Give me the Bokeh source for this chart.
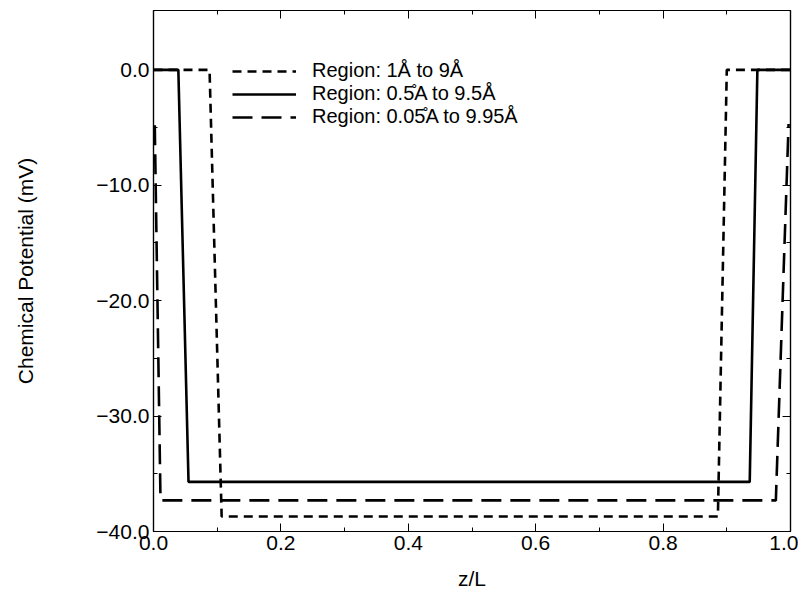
from bokeh.plotting import figure
from bokeh.models import Range1d, LinearAxis, FixedTicker, Legend, LegendItem
from bokeh.embed import file_html
from bokeh.resources import INLINE

# Data
short_x = [0.0, 0.088, 0.107, 0.886, 0.900, 1.0]
short_y = [0.0, 0.0, -38.7, -38.7, 0.0, 0.0]
solid_x = [0.0, 0.039, 0.055, 0.936, 0.948, 1.0]
solid_y = [0.0, 0.0, -35.7, -35.7, 0.0, 0.0]
long_x = [0.002, 0.011, 0.977, 0.997]
long_y = [-4.8, -37.3, -37.3, -4.7]

labels = ["Region: 1Å to 9Å", "Region: 0.5\u030aA to 9.5Å", "Region: 0.05\u030aA to 9.95Å"]
x_ticks = [0.0, 0.2, 0.4, 0.6, 0.8, 1.0]
y_ticks = [0.0, -10.0, -20.0, -30.0, -40.0]

FONT = "Liberation Sans"

p = figure(width=798, height=592, output_backend="svg", toolbar_location=None,
           x_range=Range1d(0.0, 1.0), y_range=Range1d(-40.0, 5.14),
           min_border_left=153, min_border_right=8, min_border_top=10, min_border_bottom=55)
p.grid.visible = False
p.outline_line_color = "black"
p.outline_line_width = 1.2
p.background_fill_color = "white"
p.border_fill_color = "white"

lw = 2.6
r1 = p.line(short_x, short_y, line_color="black", line_width=lw, line_dash="9 6")
r2 = p.line(solid_x, solid_y, line_color="black", line_width=lw)
r3 = p.line(long_x, long_y, line_color="black", line_width=lw, line_dash="20 9")

def style(ax, show_labels=True):
    ax.axis_line_color = "black"
    ax.axis_line_width = 1.2
    ax.major_tick_in = 8
    ax.major_tick_out = 0
    ax.minor_tick_in = 4
    ax.minor_tick_out = 0
    ax.major_tick_line_color = "black"
    ax.minor_tick_line_color = "black"
    ax.major_label_text_font = FONT
    ax.major_label_text_font_size = "21px"
    ax.major_label_text_color = "black"
    ax.major_label_standoff = 4
    if not show_labels:
        ax.major_label_text_font_size = "0px"
        ax.major_label_text_color = None

p.xaxis.ticker = FixedTicker(ticks=x_ticks, minor_ticks=[0.1, 0.3, 0.5, 0.7, 0.9])
p.yaxis.ticker = FixedTicker(ticks=y_ticks, minor_ticks=[-5.0, -15.0, -25.0, -35.0])
p.xaxis.major_label_overrides = {t: f"{t:.1f}" for t in x_ticks}
p.yaxis.major_label_overrides = {t: f"{t:.1f}".replace("-", "\u2212") for t in y_ticks}
for ax in p.xaxis + p.yaxis:
    style(ax)

p.xaxis.axis_label = "z/L"
p.xaxis.axis_label_text_font = FONT
p.xaxis.axis_label_text_font_size = "21px"
p.xaxis.axis_label_text_font_style = "normal"
p.xaxis.axis_label_text_color = "black"
p.xaxis.axis_label_standoff = 14
p.yaxis.axis_label = "Chemical Potential (mV)"
p.yaxis.axis_label_text_font = FONT
p.yaxis.axis_label_text_font_size = "21px"
p.yaxis.axis_label_text_font_style = "normal"
p.yaxis.axis_label_text_color = "black"
p.yaxis.axis_label_standoff = 56

top = LinearAxis(ticker=FixedTicker(ticks=x_ticks, minor_ticks=[0.1, 0.3, 0.5, 0.7, 0.9]))
right = LinearAxis(ticker=FixedTicker(ticks=y_ticks, minor_ticks=[-5.0, -15.0, -25.0, -35.0]))
style(top, False)
style(right, False)
p.add_layout(top, "above")
p.add_layout(right, "right")

for lab, rend, ypos in zip(labels, [r1, r2, r3], [449, 426, 403]):
    lg = Legend(items=[LegendItem(label=lab, renderers=[rend])], location=(79, ypos))
    lg.border_line_color = None
    lg.background_fill_alpha = 0
    lg.label_text_font = FONT
    lg.label_text_font_size = "20px"
    lg.label_text_color = "black"
    lg.glyph_width = 64
    lg.glyph_height = 20
    lg.label_height = 20
    lg.spacing = 0
    lg.padding = 0
    lg.label_standoff = 16
    lg.margin = 0
    p.add_layout(lg, "center")

open("out.html", "w").write(file_html(p, INLINE))
